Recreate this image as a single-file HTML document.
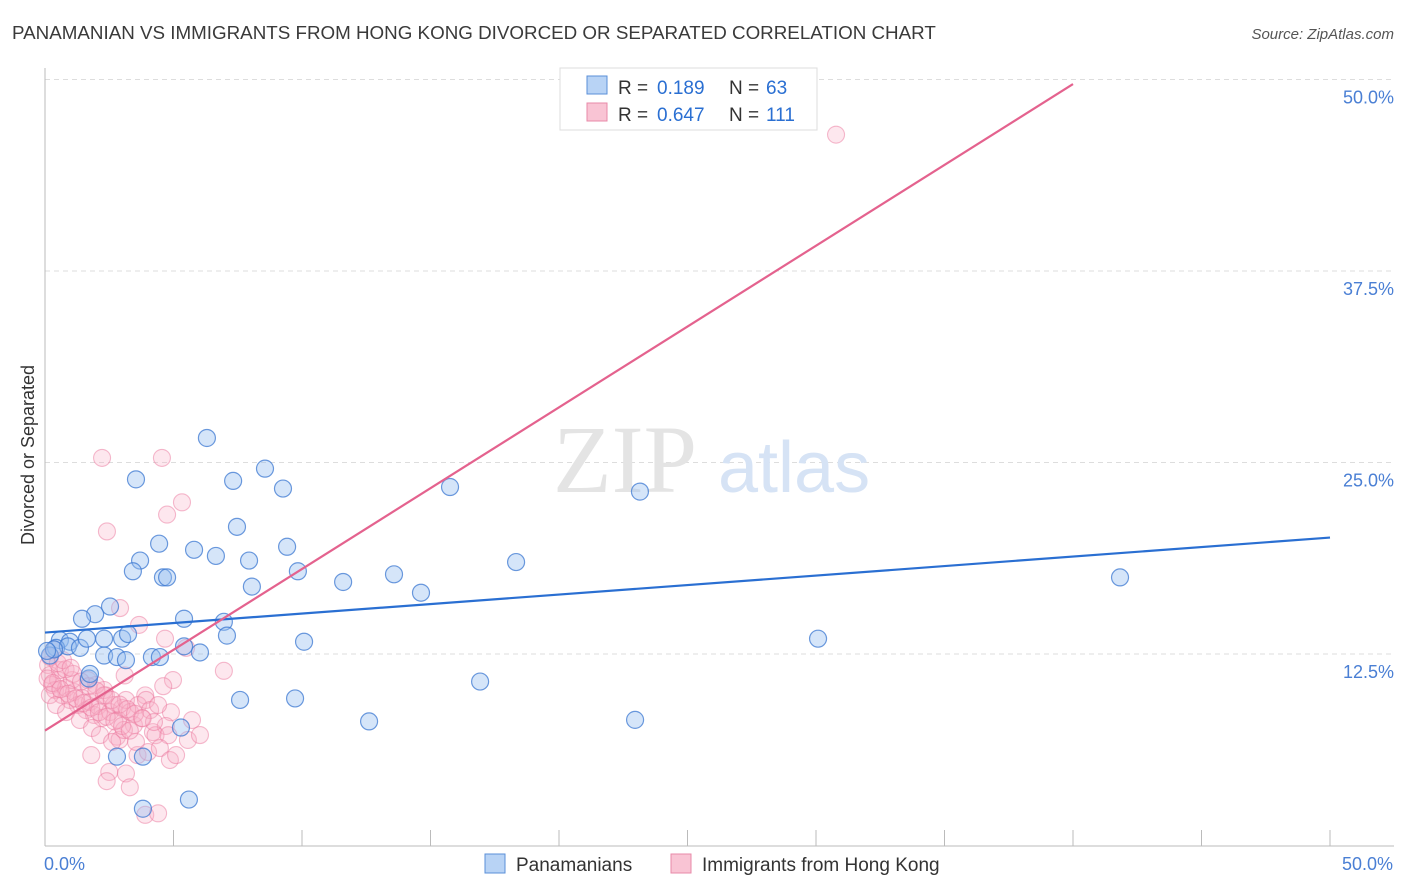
<!DOCTYPE html>
<html><head><meta charset="utf-8">
<style>
body{margin:0;background:#fff;font-family:"Liberation Sans",sans-serif;}
#wrap{position:relative;width:1406px;height:892px;overflow:hidden;}
</style></head>
<body>
<div id="wrap">
<svg id="svg" width="1406" height="892"></svg>
</div>
<script>
const blueX=[6.30,3.54,7.32,8.56,9.26,15.76,23.15,7.47,4.44,5.80,6.65,7.94,3.70,3.42,4.59,4.75,9.84,8.05,11.60,13.58,14.63,18.33,41.83,9.42,2.53,1.95,1.44,5.41,6.96,7.08,10.08,30.08,0.58,0.97,0.43,0.89,1.36,1.63,2.30,3.00,3.23,2.30,2.80,3.15,4.16,4.47,5.41,6.03,0.19,0.35,1.71,7.59,9.73,16.93,12.61,22.96,1.75,5.29,3.81,2.80,3.81,5.60,0.08];
const blueY=[26.6,23.9,23.8,24.6,23.3,23.4,23.1,20.8,19.7,19.3,18.9,18.6,18.6,17.9,17.5,17.5,17.9,16.9,17.2,17.7,16.5,18.5,17.5,19.5,15.6,15.1,14.8,14.8,14.6,13.7,13.3,13.5,13.4,13.3,12.9,13.0,12.9,13.5,13.5,13.5,13.8,12.4,12.3,12.1,12.3,12.3,13.0,12.6,12.4,12.8,10.9,9.5,9.6,10.7,8.1,8.2,11.2,7.7,5.8,5.8,2.4,3.0,12.7];
const pinkX=[30.78,2.22,4.55,5.33,4.75,2.41,2.92,3.66,4.67,5.49,6.96,4.98,4.2,2.8,2.9,1.8,3.6,2.5,3.15,2.4,3.3,3.9,4.4,3.9,4.6,4.9,4.7,4.3,4.8,3.1,
0.12,0.19,0.27,0.39,0.51,0.66,0.82,0.97,1.13,1.28,1.44,1.6,1.75,1.91,2.06,2.22,2.37,2.53,2.68,2.84,3.0,3.15,3.31,3.46,3.62,3.77,3.93,4.09,4.24,4.4,2.3,1.98,1.67,1.05,0.58,0.19,0.43,0.82,1.36,1.83,2.14,2.61,3.07,3.54,4.01,4.47,4.86,5.1,5.56,5.72,6.03,
0.1,0.3,0.6,0.9,1.2,1.5,1.8,2.1,2.4,2.7,3.0,3.3,0.2,0.5,0.8,1.1,1.4,1.7,2.0,2.3,2.6,2.9,3.2,3.5,3.8,0.35,0.7,1.0];
const pinkY=[46.4,25.3,25.3,22.4,21.6,20.5,15.5,14.4,13.5,12.9,11.4,10.8,7.4,7.1,6.9,5.9,5.9,4.8,4.7,4.2,3.8,2.0,2.1,9.8,10.4,8.7,7.8,7.2,7.2,11.1,
11.78,11.13,10.48,10.15,10.8,9.82,10.28,9.5,10.02,9.17,9.63,8.84,9.37,8.52,9.1,8.32,9.8,8.71,9.17,8.19,8.98,9.5,8.71,7.86,9.17,8.32,9.5,8.84,8.06,9.17,10.15,10.48,10.8,10.8,11.45,9.82,9.17,8.71,8.19,7.67,7.21,6.76,7.54,6.76,6.1,6.36,5.58,5.9,6.89,8.19,7.21,
10.9,10.6,10.2,9.9,9.6,9.3,9.0,8.7,8.4,8.1,7.8,7.5,12.3,11.9,11.5,11.2,10.7,10.4,10.1,9.8,9.5,9.2,8.9,8.6,8.3,12.8,12.1,11.6];
const yTicks=[12.5,25,37.5,50];
const yTickLabels=["12.5%","25.0%","37.5%","50.0%"];
const blueTrend=[[0,13.9],[50,20.1]];
const pinkTrend=[[0,7.5],[40,49.7]];

const X0=45,X1=1330,YB=845.5,YT=79.5;
const sx=v=>X0+(v/50)*(X1-X0);
const sy=v=>YB-(v/50)*(YB-YT);
const svg=document.getElementById('svg');
const NS='http://www.w3.org/2000/svg';
function mk(t,a,p){const e=document.createElementNS(NS,t);for(const k in a)e.setAttribute(k,a[k]);(p||svg).appendChild(e);return e;}

let t=mk('text',{x:12,y:39,'font-size':18.8,fill:'#3a3a3a'});t.textContent='PANAMANIAN VS IMMIGRANTS FROM HONG KONG DIVORCED OR SEPARATED CORRELATION CHART';

t=mk('text',{x:1394,y:39,'font-size':15,fill:'#555','text-anchor':'end','font-style':'italic'});t.textContent='Source: ZipAtlas.com';


yTicks.forEach((v,i)=>{
 const l=mk('line',{x1:X0,x2:1394,y1:sy(v),y2:sy(v),stroke:'#ddd','stroke-dasharray':'5,4'});
 
 const tx=mk('text',{x:1394,y:sy(v)+24,'font-size':18,fill:'#4a7fd4','text-anchor':'end'});tx.textContent=yTickLabels[i];
 
});
let ax=mk('line',{x1:X0,x2:X0,y1:68,y2:846,stroke:'#bbb'});
ax=mk('line',{x1:X0,x2:1394,y1:846,y2:846,stroke:'#bbb'});
for(let i=1;i<=10;i++){const x=X0+i*(X1-X0)/10;const k=mk('line',{x1:x,x2:x,y1:830,y2:846,stroke:'#bbb'});}
t=mk('text',{x:44,y:870,'font-size':18,fill:'#4a7fd4'});t.textContent='0.0%';
t=mk('text',{x:1393,y:870,'font-size':18,fill:'#4a7fd4','text-anchor':'end'});t.textContent='50.0%';
t=mk('text',{x:34,y:455,'font-size':18,fill:'#333','text-anchor':'middle',transform:'rotate(-90 34 455)'});t.textContent='Divorced or Separated';

t=mk('text',{x:553,y:492,'font-size':96,fill:'#e4e4e4','font-family':'Liberation Serif'});t.textContent='ZIP';
t=mk('text',{x:718,y:492,'font-size':72,fill:'#d6e3f5'});t.textContent='atlas';

pinkX.forEach((v,i)=>{const c=mk('circle',{cx:sx(v),cy:sy(pinkY[i]),r:8.5,fill:'rgba(248,175,198,0.3)',stroke:'rgba(236,120,158,0.5)','stroke-width':1.1});
 });
blueX.forEach((v,i)=>{const c=mk('circle',{cx:sx(v),cy:sy(blueY[i]),r:8.5,fill:'rgba(150,190,240,0.4)',stroke:'rgba(60,120,210,0.75)','stroke-width':1.2});
 });

let tl=mk('line',{x1:sx(blueTrend[0][0]),y1:sy(blueTrend[0][1]),x2:sx(blueTrend[1][0]),y2:sy(blueTrend[1][1]),stroke:'#2a6fd2','stroke-width':2.2});

tl=mk('line',{x1:sx(pinkTrend[0][0]),y1:sy(pinkTrend[0][1]),x2:sx(pinkTrend[1][0]),y2:sy(pinkTrend[1][1]),stroke:'#e4628e','stroke-width':2.2});


const lg=mk('g',{});
mk('rect',{x:560,y:68,width:257,height:62,fill:'#fff',stroke:'#ddd'},lg);
mk('rect',{x:587,y:76,width:20,height:18,fill:'#b8d3f5',stroke:'#5a8fd8'},lg);
mk('rect',{x:587,y:103,width:20,height:18,fill:'#f9c4d4',stroke:'#e88aa8'},lg);
[[94,'0.189','63'],[121,'0.647','111']].forEach(r=>{
 let a=mk('text',{x:618,y:r[0],'font-size':19,fill:'#333'},lg);a.textContent='R = ';
 a=mk('text',{x:657,y:r[0],'font-size':19,fill:'#2a6fd2'},lg);a.textContent=r[1];
 a=mk('text',{x:729,y:r[0],'font-size':19,fill:'#333'},lg);a.textContent='N = ';
 a=mk('text',{x:766,y:r[0],'font-size':19,fill:'#2a6fd2'},lg);a.textContent=r[2];
});
const bl=mk('g',{});
mk('rect',{x:485,y:854,width:20,height:19,fill:'#b8d3f5',stroke:'#5a8fd8'},bl);
t=mk('text',{x:516,y:871,'font-size':19,fill:'#333'},bl);t.textContent='Panamanians';
mk('rect',{x:671,y:854,width:20,height:19,fill:'#f9c4d4',stroke:'#e88aa8'},bl);
t=mk('text',{x:702,y:871,'font-size':19,fill:'#333'},bl);t.textContent='Immigrants from Hong Kong';
</script>
</body></html>
